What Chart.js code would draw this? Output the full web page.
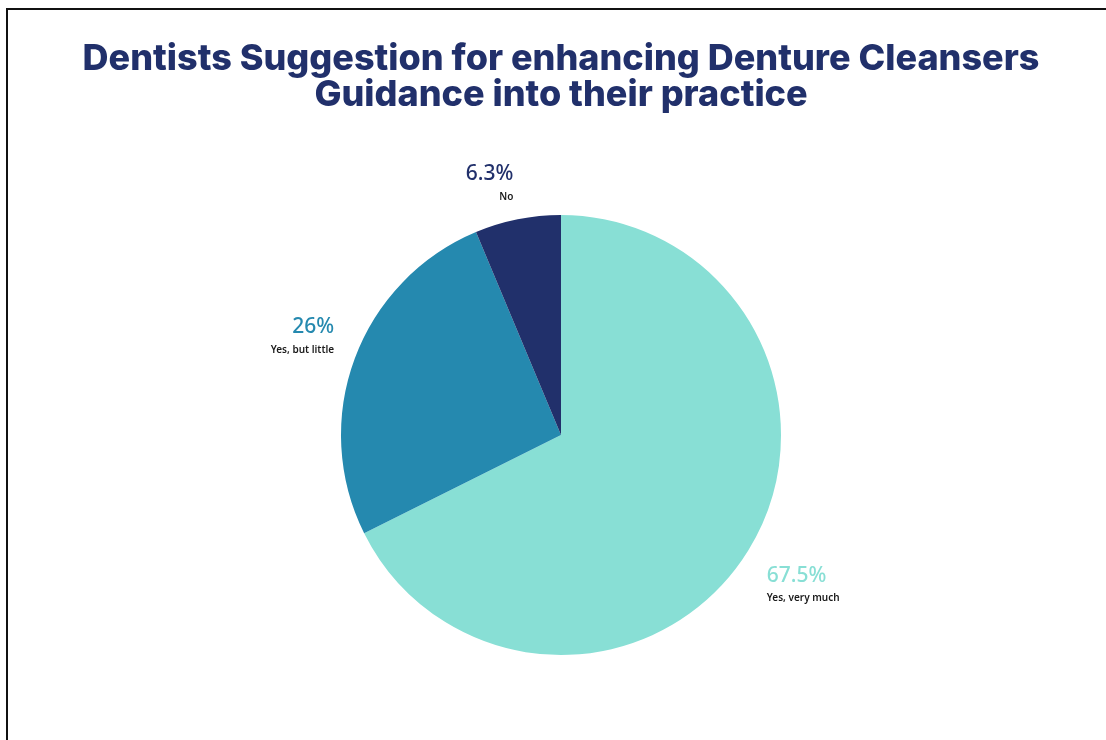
<!DOCTYPE html>
<html>
<head>
<meta charset="utf-8">
<script src="https://cdn.jsdelivr.net/npm/chart.js@4.4.1/dist/chart.umd.min.js"></script>
<style>
  html, body { margin: 0; padding: 0; background: #fff; }
  #wrap { position: relative; width: 1106px; height: 740px; overflow: hidden; }
  #frame { position: absolute; left: 6px; top: 8px; width: 1200px; height: 800px;
           border-left: 2px solid #111; border-top: 2px solid #111; }
  canvas { position: absolute; left: 0; top: 0; }
</style>
</head>
<body>
<div id="wrap">
  <div id="frame"></div>
  <canvas id="chart" width="1106" height="740"></canvas>
</div>
<script>
// answers and share of dentists (%)
const categories = ['Yes, very much', 'Yes, but little', 'No'];
const shares = [67.5, 26, 6.3];
const shareLabels = ['67.5%', '26%', '6.3%'];
const colors = ['#88DFD5', '#2589AF', '#21306B'];

const titleLines = ['Dentists Suggestion for enhancing Denture Cleansers', 'Guidance into their practice'];

// draws the percent + name next to each slice
const outsideLabels = {
  id: 'outsideLabels',
  afterDatasetsDraw(chart) {
    const ctx = chart.ctx;
    const arcs = chart.getDatasetMeta(0).data;
    arcs.forEach((arc, i) => {
      const p = arc.getProps(['x', 'y', 'startAngle', 'endAngle', 'outerRadius']);
      const mid = (p.startAngle + p.endAngle) / 2;
      const r = p.outerRadius * 1.1;
      const ax = p.x + Math.cos(mid) * r;
      const ay = p.y + Math.sin(mid) * r;
      const right = Math.cos(mid) >= 0;
      const blockH = 37;
      // block hangs below the anchor on the lower half, sits above it on the upper half
      const top = (Math.sin(mid) > 0 ? ay : ay - blockH) + 6;
      ctx.save();
      ctx.textAlign = right ? 'left' : 'right';
      ctx.textBaseline = 'top';
      ctx.fillStyle = colors[i];
      ctx.font = '500 21px "Noto Sans", sans-serif';
      ctx.fillText(shareLabels[i], ax, top - 3);
      ctx.fillStyle = '#1a1a1a';
      ctx.font = '600 10px "Noto Sans", sans-serif';
      ctx.fillText(categories[i], ax, top + 25);
      ctx.restore();
    });
  }
};

new Chart(document.getElementById('chart'), {
  type: 'pie',
  data: {
    labels: categories,
    datasets: [{
      data: shares,
      backgroundColor: colors,
      borderWidth: 0
    }]
  },
  options: {
    responsive: false,
    animation: false,
    layout: { padding: { left: 16, right: 0, top: 0, bottom: 85 } },
    plugins: {
      legend: { display: false },
      tooltip: { enabled: false },
      title: {
        display: true,
        text: titleLines,
        color: '#21306B',
        font: { family: 'Inter', size: 36, weight: '800', lineHeight: 1.0 },
        padding: { top: 41, bottom: 102 }
      }
    }
  },
  plugins: [outsideLabels]
});
</script>
</body>
</html>
